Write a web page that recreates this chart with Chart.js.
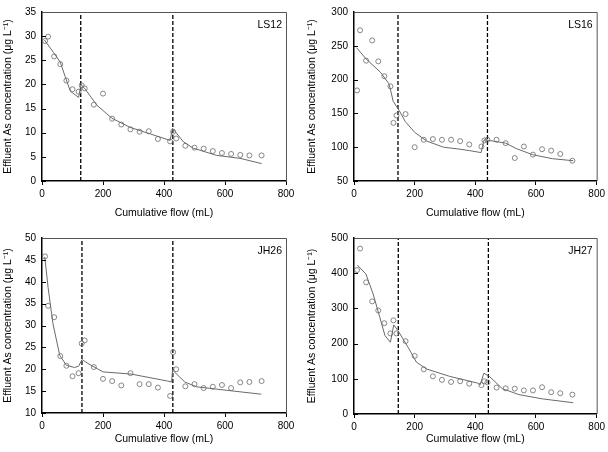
<!DOCTYPE html>
<html>
<head>
<meta charset="UTF-8">
<title>Effluent As concentration</title>
<script src="https://cdn.jsdelivr.net/npm/chart.js@4.4.0/dist/chart.umd.min.js"></script>
<style>
  html, body { margin: 0; padding: 0; background: #fff; }
  #wrap { position: relative; width: 608px; height: 452px; }
  .cell { position: absolute; width: 304px; height: 226px; }
</style>
</head>
<body>
<div id="wrap">
  <div class="cell" style="left:0;top:0"><canvas id="ls12"></canvas></div>
  <div class="cell" style="left:304px;top:0"><canvas id="ls16"></canvas></div>
  <div class="cell" style="left:0;top:226px"><canvas id="jh26"></canvas></div>
  <div class="cell" style="left:304px;top:226px"><canvas id="jh27"></canvas></div>
</div>
<script>
// sampling points (cumulative flow, mL) shared by all four columns
const flow = [10, 20, 40, 60, 80, 100, 120, 130, 140, 170, 200, 230, 260, 290, 320, 350, 380, 420, 430, 440, 470, 500, 530, 560, 590, 620, 650, 680, 720];

// measured effluent As (ug/L)
const ls12Obs = [29.0, 29.9, 25.8, 24.2, 20.8, 19.0, 18.5, 19.8, 19.2, 15.8, 18.1, 12.9, 11.7, 10.7, 10.2, 10.3, 8.7, 8.2, 10.2, 8.8, 7.3, 6.9, 6.7, 6.2, 5.8, 5.6, 5.4, 5.3, 5.3];
const ls16Obs = [184, 273, 228, 258, 227, 205, 190, 136, 147, 149, 100, 111, 112, 111, 111, 109, 104, 101, 110, 111, 111, 106, 84, 101, 89, 97, 95, 90, 80];
const jh26Obs = [45.8, 34.5, 31.9, 23.0, 20.8, 18.4, 19.1, 25.9, 26.6, 20.5, 17.8, 17.3, 16.3, 19.1, 16.6, 16.6, 15.8, 13.9, 23.9, 20.0, 16.1, 16.6, 15.7, 16.0, 16.4, 15.7, 17.0, 17.1, 17.3];
const jh27Obs = [409, 470, 374, 320, 294, 258, 229, 266, 229, 207, 165, 127, 107, 97, 91, 93, 86, 82, 93, 90, 75, 73, 72, 67, 67, 76, 62, 59, 55];

// model curves
const ls12ModelX = [8, 38, 60, 76, 93, 120, 128, 142, 180, 229, 289, 355, 420, 428, 464, 496, 573, 649, 720];
const ls12ModelY = [29.2, 26.6, 24.6, 21.6, 18.6, 17.3, 20.0, 19.0, 15.7, 13.0, 11.1, 9.75, 8.4, 10.9, 8.1, 6.8, 5.3, 4.7, 3.6];
const ls16ModelX = [9, 39, 87, 115, 122, 129, 148, 169, 200, 240, 295, 350, 380, 419, 429, 446, 500, 535, 588, 654, 723];
const ls16ModelY = [247, 231, 211, 194, 182, 168, 155, 138, 122, 109, 100, 97, 95, 92, 111, 110, 106, 98, 89, 83, 80];
const jh26ModelX = [9, 20, 36, 58, 80, 107, 120, 131, 161, 200, 292, 412, 425, 428, 468, 506, 604, 719];
const jh26ModelY = [45.7, 38.7, 30.4, 23.2, 20.9, 20.4, 20.7, 22.2, 20.9, 19.4, 18.9, 17.3, 17.1, 19.8, 17.1, 16.0, 15.2, 14.3];
const jh27ModelX = [11, 39, 63, 85, 102, 120, 131, 145, 178, 206, 239, 315, 407, 416, 428, 446, 489, 544, 621, 723];
const jh27ModelY = [423, 398, 341, 275, 223, 204, 253, 237, 190, 147, 128, 107, 88, 83, 116, 107, 72, 55, 43, 32];

// flow at which the feed was switched (dashed lines)
const ls12Breaks = [127, 429];
const ls16Breaks = [145, 440];
const jh26Breaks = [131, 429];
const jh27Breaks = [146, 443];

Chart.defaults.font.family = 'Arial, "Liberation Sans", sans-serif';
Chart.defaults.color = '#000';
Chart.defaults.animation = false;

const frame = {
  id: 'frame',
  afterDatasetsDraw(chart, args, opts) {
    const { ctx, chartArea: a, scales } = chart;
    ctx.save();
    // inward y ticks
    ctx.strokeStyle = '#000';
    ctx.lineWidth = 1;
    scales.y.ticks.forEach(t => {
      const py = Math.round(scales.y.getPixelForValue(t.value)) + 0.5;
      ctx.beginPath();
      ctx.moveTo(a.left, py);
      ctx.lineTo(a.left + 4, py);
      ctx.stroke();
    });
    // top and right border
    ctx.strokeStyle = '#555';
    ctx.beginPath();
    ctx.moveTo(a.left, a.top + 0.5);
    ctx.lineTo(a.right + 0.5, a.top + 0.5);
    ctx.lineTo(a.right + 0.5, a.bottom);
    ctx.stroke();
    // panel label
    ctx.fillStyle = '#000';
    ctx.font = '10.5px Arial, "Liberation Sans", sans-serif';
    ctx.textAlign = 'right';
    ctx.textBaseline = 'alphabetic';
    ctx.fillText(opts.label, a.right - 4, a.top + 16);
    ctx.restore();
  }
};

function makePanel(id, label, obs, modelX, modelY, breaks, yMin, yMax, yStep, box) {
  const datasets = [
    {
      data: flow.map((x, i) => ({ x: x, y: obs[i] })),
      showLine: false,
      pointStyle: 'circle',
      pointRadius: 2.5,
      pointBorderWidth: 0.8,
      pointBorderColor: '#6a6a6a',
      pointBackgroundColor: 'rgba(255,255,255,0)'
    },
    {
      data: modelX.map((x, i) => ({ x: x, y: modelY[i] })),
      showLine: true,
      pointRadius: 0,
      borderColor: '#6a6a6a',
      borderWidth: 1,
      tension: 0
    }
  ];
  breaks.forEach(b => datasets.push({
    data: [{ x: b, y: yMin }, { x: b, y: yMax }],
    showLine: true,
    pointRadius: 0,
    borderColor: '#000',
    borderWidth: 1.3,
    borderDash: [4, 2]
  }));

  new Chart(document.getElementById(id), {
    type: 'scatter',
    data: { datasets },
    options: {
      responsive: true,
      maintainAspectRatio: false,
      layout: { autoPadding: false, padding: { top: box.top, right: box.right, left: 0, bottom: 0 } },
      plugins: { legend: { display: false }, tooltip: { enabled: false }, frame: { label } },
      scales: {
        x: {
          min: 0, max: 800,
          afterFit: s => { s.height = 226 - box.bottom; },
          border: { display: true, color: '#000', width: 1.5 },
          grid: { drawOnChartArea: false, drawTicks: true, tickLength: 4, color: '#000' },
          ticks: { stepSize: 200, padding: 3, maxRotation: 0, font: { size: 10 } },
          title: { display: true, text: 'Cumulative flow (mL)', font: { size: 10.5 }, padding: { top: 0, bottom: 7 } }
        },
        y: {
          min: yMin, max: yMax,
          afterFit: s => { s.width = box.left; },
          border: { display: true, color: '#000', width: 1.5 },
          grid: { drawOnChartArea: false, drawTicks: false },
          ticks: { stepSize: yStep, padding: 6, font: { size: 10 } },
          title: { display: true, text: 'Effluent As concentration (\u03bcg L\u207b\u00b9)', font: { size: 10.5 }, padding: { top: 2, bottom: 0 } }
        }
      }
    },
    plugins: [frame]
  });
}

makePanel('ls12', 'LS12', ls12Obs, ls12ModelX, ls12ModelY, ls12Breaks, 0, 35, 5, { left: 42, right: 18, top: 4, bottom: 181 });
makePanel('ls16', 'LS16', ls16Obs, ls16ModelX, ls16ModelY, ls16Breaks, 50, 300, 50, { left: 50, right: 10, top: 4, bottom: 181 });
makePanel('jh26', 'JH26', jh26Obs, jh26ModelX, jh26ModelY, jh26Breaks, 10, 50, 5, { left: 42, right: 18, top: 11, bottom: 187 });
makePanel('jh27', 'JH27', jh27Obs, jh27ModelX, jh27ModelY, jh27Breaks, 0, 500, 100, { left: 50, right: 10, top: 11, bottom: 188 });
</script>
</body>
</html>
